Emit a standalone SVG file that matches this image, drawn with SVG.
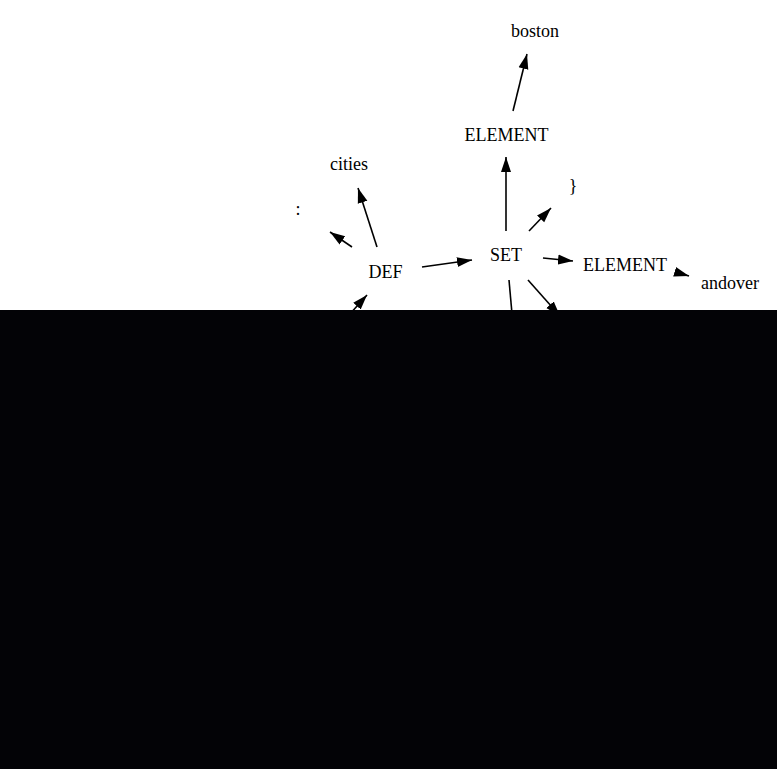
<svg xmlns="http://www.w3.org/2000/svg" width="777" height="769" viewBox="0 0 777 769">
<style>
text{font-family:"Liberation Serif","Times New Roman",serif;font-size:18px;fill:#000;text-anchor:middle}
.e{stroke:#000;stroke-width:1.6;fill:none;marker-end:url(#ah)}
</style>
<defs>
<marker id="ah" markerUnits="userSpaceOnUse" markerWidth="16" markerHeight="12" viewBox="0 -6 16 12" refX="15" refY="0" orient="auto">
<path d="M0,-5 L15,0 L0,5 z" fill="#000"/>
</marker>
</defs>
<rect width="777" height="769" fill="#fff"/>
<g id="connectors">
<line class="e" x1="513" y1="111" x2="527" y2="54"/>
<line class="e" x1="506" y1="231" x2="506" y2="157"/>
<line class="e" x1="529" y1="231" x2="551" y2="208"/>
<line class="e" x1="543" y1="258" x2="573" y2="261"/>
<line class="e" x1="677" y1="272.5" x2="689" y2="276"/>
<line class="e" x1="509" y1="280" x2="513" y2="325"/>
<line class="e" x1="528" y1="280" x2="560" y2="316"/>
<line class="e" x1="422" y1="267" x2="472" y2="260"/>
<line class="e" x1="377" y1="247" x2="358" y2="188"/>
<line class="e" x1="352" y1="247" x2="330" y2="232"/>
<line class="e" x1="340" y1="325" x2="367" y2="295"/>
</g>
<g id="boston"><text x="535" y="37">boston</text></g>
<g id="element1"><text x="506.5" y="141">ELEMENT</text></g>
<g id="cities"><text x="349" y="170">cities</text></g>
<g id="rbrace"><text x="573" y="192">}</text></g>
<g id="colon"><text x="298" y="215">:</text></g>
<g id="set"><text x="506" y="261">SET</text></g>
<g id="def"><text x="385.5" y="278">DEF</text></g>
<g id="element2"><text x="625" y="271">ELEMENT</text></g>
<g id="andover"><text x="730" y="289">andover</text></g>
<rect x="0" y="310" width="777" height="459" fill="#030306"/>
</svg>
